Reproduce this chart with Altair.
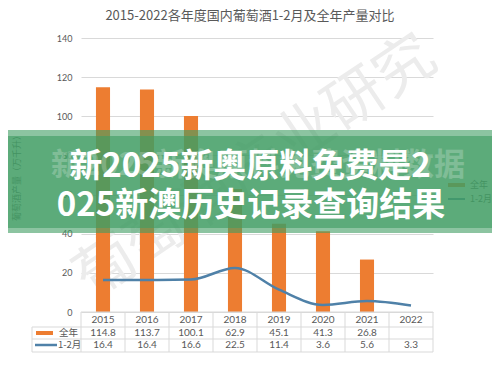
import altair as alt
import pandas as pd

# ---- data ----
years = ["2015", "2016", "2017", "2018", "2019", "2020", "2021", "2022"]
full_year = [114.8, 113.7, 100.1, 62.9, 45.1, 41.3, 26.8, None]
jan_feb = [16.4, 16.4, 16.6, 22.5, 11.4, 3.6, 5.6, 3.3]
series_names = ["全年", "1-2月"]
y_ticks = [0, 20, 40, 60, 80, 100, 120, 140]
title_text = "2015-2022各年度国内葡萄酒1-2月及全年产量对比"
axis_title = "葡萄酒产量（万千升）"
banner_lines = ["新2025新奥原料免费是2", "025新澳历史记录查询结果"]
ghost_text = "新2025新奥原料免费资料数据"
watermark = "葡萄酒产业研究"

ORANGE = "#ED7D31"
BLUE = "#4F81A8"
GRAY = "#595959"
GRID = "#d9d9d9"
GREEN = "#3f9c63"
CJK = "Noto Sans CJK SC"
NUM = "Lato"

W, H = 352, 274

df = pd.DataFrame({"year": years, "full": full_year, "jf": jan_feb})
df["full_txt"] = ["" if v is None else f"{v:.1f}" for v in full_year]
df["jf_txt"] = [f"{v:.1f}" for v in jan_feb]
one = pd.DataFrame({"k": [0]})

yscale = alt.Scale(domain=[0, 140], nice=False)
yaxis = alt.Axis(values=y_ticks, title=None)
xenc = alt.X("year:N", sort=years, scale=alt.Scale(paddingInner=0, paddingOuter=0), axis=None)

wm = alt.Chart(one).mark_text(
    text=watermark, angle=326, fontSize=60, font=CJK, color="#ececec"
).encode(x=alt.value(175), y=alt.value(130))

bars = alt.Chart(df).mark_bar(color=ORANGE, width=alt.RelativeBandSize(0.32)).encode(
    x=xenc, y=alt.Y("full:Q", scale=yscale, axis=yaxis),
)

line = alt.Chart(df).mark_line(color=BLUE, strokeWidth=2.5, interpolate="monotone").encode(
    x=alt.X("year:N", sort=years), y=alt.Y("jf:Q", scale=yscale, axis=yaxis)
)

# ---- table ----
txt_kw = dict(fontSize=10, font=NUM, color=GRAY)
hdr = alt.Chart(df).mark_text(**txt_kw).encode(x=alt.X("year:N", sort=years), y=alt.value(282), text="year:N")
r1 = alt.Chart(df).mark_text(**txt_kw).encode(x=alt.X("year:N", sort=years), y=alt.value(295), text="full_txt:N")
r2 = alt.Chart(df).mark_text(**txt_kw).encode(x=alt.X("year:N", sort=years), y=alt.value(307), text="jf_txt:N")

vlines = alt.Chart(df).mark_rule(color=GRID, strokeWidth=1).encode(
    x=alt.X("year:N", sort=years, bandPosition=0), y=alt.value(274), y2=alt.value(314)
)

def rule(x, x2, y, y2=None, color=GRID, sw=1):
    enc = dict(x=alt.value(x), y=alt.value(y))
    if x2 is not None:
        enc["x2"] = alt.value(x2)
    if y2 is not None:
        enc["y2"] = alt.value(y2)
    return alt.Chart(one).mark_rule(color=color, strokeWidth=sw).encode(**enc)

def text(t, x, y, size=9, color=GRAY, font=CJK, align="center", angle=None, weight="normal", opacity=1):
    kw = dict(text=t, fontSize=size, color=color, font=font, align=align, baseline="middle",
              fontWeight=weight, opacity=opacity)
    if angle is not None:
        kw["angle"] = angle
    return alt.Chart(one).mark_text(**kw).encode(x=alt.value(x), y=alt.value(y))

def rect(x, x2, y, y2, color, opacity=1):
    return alt.Chart(one).mark_rect(color=color, opacity=opacity).encode(
        x=alt.value(x), x2=alt.value(x2), y=alt.value(y), y2=alt.value(y2))

table = [
    rule(W, None, 274, 314),
    rule(-49, None, 289, 314),
    rule(0, W, 274),
    rule(-49, W, 289),
    rule(-49, W, 301),
    rule(-49, W, 314),
    rect(-45, -28, 293, 297, ORANGE),
    rule(-46, -24, 307, color=BLUE, sw=2.5),
    text(series_names[0], -22, 295, size=9.5, align="left"),
    text(series_names[1], -23, 307, size=9.5, align="left"),
]

legend = [
    rect(367, 384, 145, 149, ORANGE),
    text(series_names[0], 389, 147, align="left"),
    rule(367, 384, 161, color=BLUE, sw=2),
    text(series_names[1], 389, 161, align="left"),
]

decor = [
    text(title_text, 169, -22, size=13),
    text(axis_title, -64, 138, angle=270),
    rule(-73, 416, 325),
]

banner = [
    rect(-73, 419, 92, 98, GREEN, 0.6),
    rect(-73, 419, 98, 190, GREEN, 0.85),
    rect(-73, 419, 190, 195, GREEN, 0.6),
    text(ghost_text, 177, 128, size=31, color="white", weight="bold", opacity=0.22),
    text(banner_lines[0], 169, 129, size=33, color="white", weight="bold"),
    text(banner_lines[1], 170, 168, size=33, color="white", weight="bold"),
]

chart = alt.layer(wm, bars, line, vlines, hdr, r1, r2, *table, *legend, *decor, *banner).properties(
    width=W, height=H,
    padding={"left": 73, "top": 30, "right": 59, "bottom": 45},
    autosize=alt.AutoSizeParams(type="none"),
    background="white",
).configure_view(stroke=None).configure_axisY(
    grid=True, gridColor=GRID, domain=False, ticks=False,
    labelColor=GRAY, labelFontSize=9, labelFont=NUM, labelPadding=9,
    labelOverlap=False, labelFlush=False,
)

chart.save("out.html", embed_options={"renderer": "svg", "actions": False})
